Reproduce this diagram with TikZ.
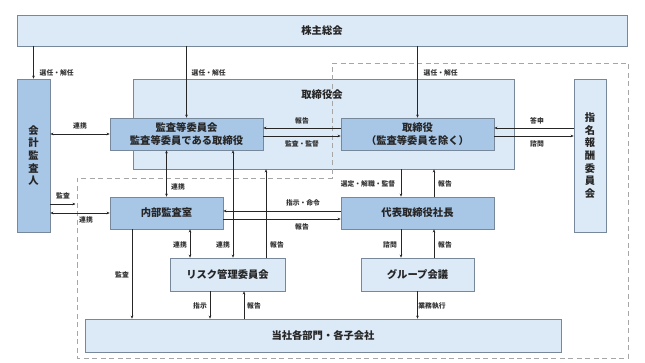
\documentclass[tikz,border=0pt]{standalone}
\usepackage{fontspec}
\setmainfont{Noto Sans CJK JP}
\usetikzlibrary{arrows.meta,calc}
\definecolor{lightfill}{HTML}{DCE9F6}
\definecolor{darkfill}{HTML}{A8C6E6}
\definecolor{boxline}{HTML}{76889A}
\definecolor{dashcol}{HTML}{A6A6A6}
\tikzset{
  box/.style={draw=boxline, line width=0.7pt, inner sep=0pt, font=\fontsize{10.3}{12.6}\selectfont\bfseries, text=black!85, align=center},
  lbox/.style={box, fill=lightfill},
  dbox/.style={box, fill=darkfill},
  arr/.style={draw=black!85, line width=0.7pt, -{Stealth[length=3pt,width=2.6pt]}},
  arrb/.style={draw=black!85, line width=0.7pt, {Stealth[length=3pt,width=2.6pt]}-{Stealth[length=3pt,width=2.6pt]}},
  lab/.style={font=\fontsize{6.8}{7}\selectfont\bfseries, inner sep=0.5pt, text=black!80},
}
\begin{document}
\begin{tikzpicture}[x=1pt,y=-1pt]
\useasboundingbox (0,0) rectangle (645,363);
% boxes
\node[lbox, minimum width=610pt, minimum height=31pt] (sh) at (322,30.5) {株主総会};
\node[lbox, minimum width=381pt, minimum height=90pt] (board) at (323.5,124) {};
\node[box, draw=none] (boardlab) at (322,94.5) {取締役会};
% dashed region
\draw[dashcol, line width=0.8pt, dash pattern=on 5pt off 3.5pt] (332,63) -- (628,63) -- (628,358) -- (77,358) -- (77,178) -- (332,178) -- cycle;
\node[dbox, minimum width=33pt, minimum height=153pt] (aud) at (33.5,155.5) {会\\計\\監\\査\\人};
\node[dbox, minimum width=153pt, minimum height=32pt] (acc) at (186.5,134) {監査等委員会\\監査等委員である取締役};
\node[dbox, minimum width=153pt, minimum height=32pt] (dir) at (417.5,134) {取締役\\（監査等委員を除く）};
\node[lbox, minimum width=32pt, minimum height=153pt] (nom) at (590,155.5) {指\\名\\報\\酬\\委\\員\\会};
\node[dbox, minimum width=113pt, minimum height=32pt] (ia) at (166.5,213) {内部監査室};
\node[dbox, minimum width=153pt, minimum height=32pt] (ceo) at (417.5,213) {代表取締役社長};
\node[lbox, minimum width=115pt, minimum height=33pt] (risk) at (227.5,274.5) {リスク管理委員会};
\node[lbox, minimum width=113pt, minimum height=33pt] (grp) at (417.5,274.5) {グループ会議};
\node[lbox, minimum width=476pt, minimum height=33pt] (dept) at (323,335.5) {当社各部門・各子会社};
\coordinate (dl) at (75.5,204);
% shareholders arrows
\draw[arr] (sh.south -| aud.north) -- (aud.north);
\draw[arr] (sh.south -| acc.north) -- (acc.north);
\draw[arr] (sh.south -| dir.north) -- (dir.north);
\node[lab, anchor=west] at (39,72.5) {選任・解任};
\node[lab, anchor=west] at (191,72.5) {選任・解任};
\node[lab, anchor=west] at (423,72.5) {選任・解任};
% auditor
\draw[arrb] (aud.east |- acc.west) -- (acc.west);
\node[lab] at (80,126) {連携};
\draw[arr] (aud.east |- dl) -- (dl);
\node[lab] at (63,196) {監査};
\draw[arrb] (aud.east |- ia.west) -- (ia.west);
\node[lab] at (86,220) {連携};
% acc - dir
\draw[arr] ([yshift=6pt]dir.west) -- ([yshift=6pt]acc.east);
\draw[arr] ([yshift=-2pt]acc.east) -- ([yshift=-2pt]dir.west);
\node[lab] at (302,121) {報告};
\node[lab] at (302,144) {監査・監督};
% dir - nom
\draw[arr] ([yshift=6pt]nom.west |- dir.east) -- ([yshift=6pt]dir.east);
\draw[arr] ([yshift=-2pt]dir.east) -- ([yshift=-2pt]nom.west |- dir.east);
\node[lab] at (537,121) {答申};
\node[lab] at (537,144) {諮問};
% acc - ia
\draw[arrb] (ia.north) -- (ia.north |- acc.south);
\node[lab] at (178,187) {連携};
% board - ceo
\draw[arr] ([xshift=-16.5pt]ceo.north |- board.south) -- ([xshift=-16.5pt]ceo.north);
\draw[arr] ([xshift=16.5pt]ceo.north) -- ([xshift=16.5pt]ceo.north |- board.south);
\node[lab] at (368,183.5) {選定・解職・監督};
\node[lab] at (445,183.5) {報告};
% ceo - ia
\draw[arr] ([yshift=2pt]ceo.west) -- ([yshift=2pt]ia.east);
\draw[arr] ([yshift=-6pt]ia.east) -- ([yshift=-6pt]ceo.west);
\node[lab] at (303,203) {指示・命令};
\node[lab] at (302,227) {報告};
% risk links
\draw[arrb] ([xshift=-37.5pt]risk.north) -- ([xshift=-37.5pt]risk.north |- ia.south);
\draw[arrb] ([xshift=5.5pt]risk.north) -- ([xshift=5.5pt]risk.north |- acc.south);
\draw[arr] ([xshift=38.5pt]risk.north) -- ([xshift=38.5pt]risk.north |- board.south);
\node[lab] at (180,245) {連携};
\node[lab] at (223,245) {連携};
\node[lab] at (277,245) {報告};
% ia - dept
\draw[arr] ([xshift=-34.5pt]ia.south) -- ([xshift=-34.5pt]ia.south |- dept.north);
\node[lab] at (122,275) {監査};
% risk - dept
\draw[arr] ([xshift=-17.5pt]risk.south) -- ([xshift=-17.5pt]risk.south |- dept.north);
\draw[arr] ([xshift=16.5pt]risk.south |- dept.north) -- ([xshift=16.5pt]risk.south);
\node[lab] at (200,306) {指示};
\node[lab] at (254,306) {報告};
% ceo - grp
\draw[arr] ([xshift=-16.5pt]ceo.south) -- ([xshift=-16.5pt]grp.north);
\draw[arr] ([xshift=16.5pt]grp.north) -- ([xshift=16.5pt]ceo.south);
\node[lab] at (390,245) {諮問};
\node[lab] at (445,245) {報告};
% grp - dept
\draw[arr] (grp.south) -- (grp.south |- dept.north);
\node[lab] at (432,306) {業務執行};
\end{tikzpicture}
\end{document}
